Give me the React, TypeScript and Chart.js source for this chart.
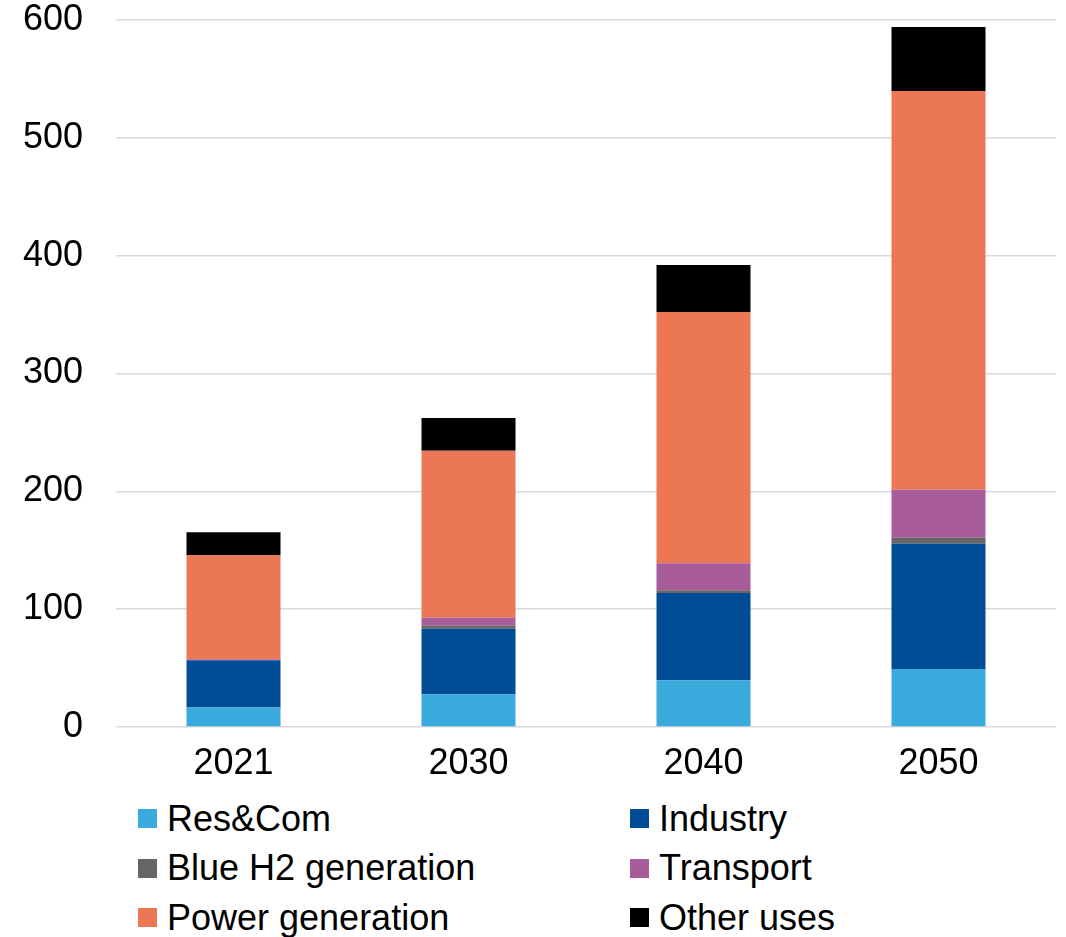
import React, { useEffect, useRef } from "react";
import { Chart, registerables } from "chart.js";

Chart.register(...registerables);

const categories = ["2021", "2030", "2040", "2050"];
const resCom = [16.5, 27.7, 39.6, 49.2];
const industry = [40.1, 55.7, 74.1, 106.4];
const blueH2 = [0, 2.6, 2.3, 5.1];
const transport = [0.9, 6.8, 22.9, 40.7];
const powerGen = [88.2, 141.7, 213.3, 338.4];
const otherUses = [19.5, 27.7, 39.8, 54.2];
const yTicks = [0, 100, 200, 300, 400, 500, 600];

const seriesNames = ["Res&Com", "Industry", "Blue H2 generation", "Transport", "Power generation", "Other uses"];
const seriesColors = ["#3AA9DC", "#004C97", "#666666", "#A85C99", "#EC7754", "#000000"];
const seriesData = [resCom, industry, blueH2, transport, powerGen, otherUses];

const FONT = "'Liberation Sans', Arial, sans-serif";
const CANVAS_H = 790;

export default function App() {
  const ref = useRef<HTMLCanvasElement | null>(null);

  useEffect(() => {
    if (!ref.current) return;
    const chart = new Chart(ref.current, {
      type: "bar",
      data: {
        labels: categories,
        datasets: seriesData.map((d, i) => ({
          label: seriesNames[i],
          data: d,
          backgroundColor: seriesColors[i],
          borderWidth: 0,
          categoryPercentage: 1,
          barPercentage: 0.4,
        })),
      },
      options: {
        animation: false,
        responsive: false,
        maintainAspectRatio: false,
        layout: { padding: { top: 20, right: 10, left: 0, bottom: 0 } },
        plugins: { legend: { display: false }, tooltip: { enabled: false } },
        scales: {
          x: {
            stacked: true,
            grid: { display: false, drawTicks: false },
            border: { display: false },
            ticks: { color: "#000", font: { family: FONT, size: 36 }, padding: 15 },
            afterFit: (s: any) => { s.height = CANVAS_H - 727; s.paddingLeft = 0; s.paddingRight = 0; },
          },
          y: {
            stacked: true,
            min: 0,
            max: 600,
            afterBuildTicks: (s: any) => { s.ticks = yTicks.map((v) => ({ value: v })); },
            grid: { color: "#d9d9d9", lineWidth: 1.5, drawTicks: false },
            border: { display: false },
            ticks: { color: "#000", font: { family: FONT, size: 36 }, padding: 33 },
            afterFit: (s: any) => { s.width = 116; s.paddingTop = 0; s.paddingBottom = 0; },
          },
        },
      },
    });
    return () => chart.destroy();
  }, []);

  const rowH = 49.5;
  return (
    <div style={{ position: "absolute", left: 0, top: 0, width: 1066, height: 937, background: "#fff", overflow: "hidden" }}>
      <canvas ref={ref} width={1066} height={CANVAS_H} style={{ display: "block", width: 1066, height: CANVAS_H }} />
      <div style={{ position: "absolute", left: 138, top: 794, fontFamily: FONT, fontSize: 36, color: "#000" }}>
        {seriesNames.map((n, i) => (
          <div
            key={n}
            style={{
              position: "absolute",
              left: (i % 2) * 492,
              top: Math.floor(i / 2) * rowH,
              height: rowH,
              display: "flex",
              alignItems: "center",
              whiteSpace: "nowrap",
            }}
          >
            <span style={{ display: "inline-block", width: 19, height: 19, background: seriesColors[i], marginRight: 10 }} />
            <span>{n}</span>
          </div>
        ))}
      </div>
    </div>
  );
}
